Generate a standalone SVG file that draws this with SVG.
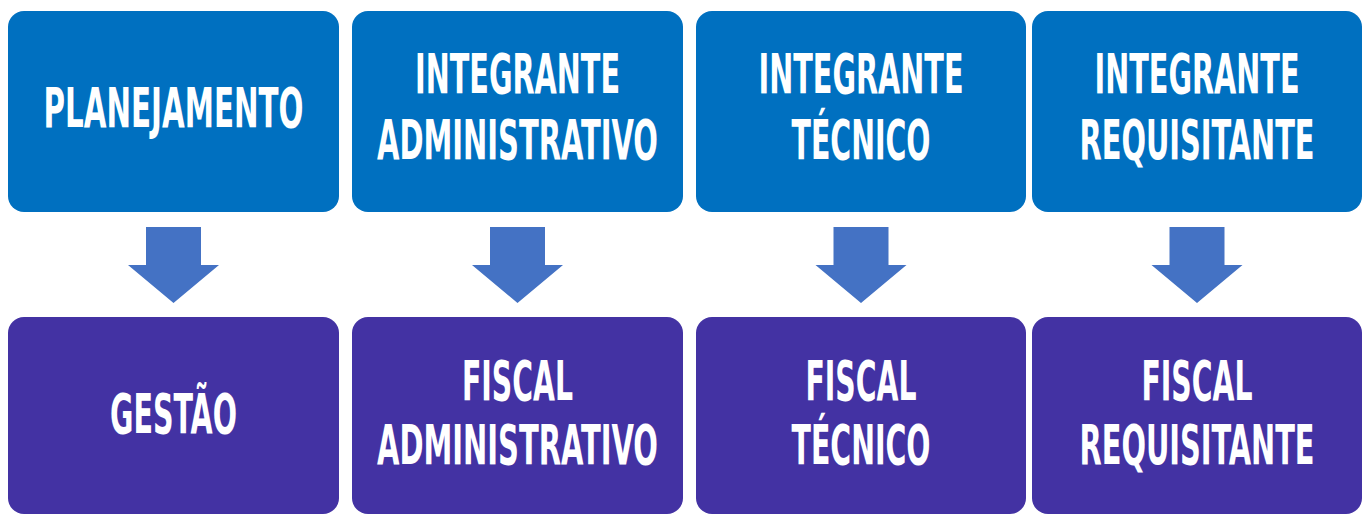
<svg xmlns="http://www.w3.org/2000/svg" width="1365" height="515" viewBox="0 0 1365 515">
<style>
.top{fill:#0070C0}
.bot{fill:#4332A3}
.arr{fill:#4472C4}
text{fill:#FFFFFF;font-family:"Liberation Sans Narrow","DejaVu Sans Condensed","DejaVu Sans",sans-serif;font-weight:bold;font-size:55px;text-anchor:middle;font-stretch:condensed}
</style>
<rect width="1365" height="515" fill="#FFFFFF"/>
<g id="n1"><rect class="top" x="8" y="11" width="331" height="201" rx="16"/><text x="173.5" y="127" textLength="260" lengthAdjust="spacingAndGlyphs">PLANEJAMENTO</text></g>
<g id="n2"><rect class="top" x="352" y="11" width="331" height="201" rx="16"/><text x="517.5" y="93" textLength="205" lengthAdjust="spacingAndGlyphs">INTEGRANTE</text><text x="517.5" y="159" textLength="281" lengthAdjust="spacingAndGlyphs">ADMINISTRATIVO</text></g>
<g id="n3"><rect class="top" x="696" y="11" width="330" height="201" rx="16"/><text x="861" y="93" textLength="205" lengthAdjust="spacingAndGlyphs">INTEGRANTE</text><text x="861" y="159" textLength="139" lengthAdjust="spacingAndGlyphs">TÉCNICO</text></g>
<g id="n4"><rect class="top" x="1032" y="11" width="330" height="201" rx="16"/><text x="1197" y="93" textLength="205" lengthAdjust="spacingAndGlyphs">INTEGRANTE</text><text x="1197" y="159" textLength="235" lengthAdjust="spacingAndGlyphs">REQUISITANTE</text></g>
<g id="n5"><rect class="bot" x="8" y="317" width="331" height="197" rx="16"/><text x="173.5" y="433" textLength="127" lengthAdjust="spacingAndGlyphs">GESTÃO</text></g>
<g id="n6"><rect class="bot" x="352" y="317" width="331" height="197" rx="16"/><text x="517.5" y="400" textLength="111" lengthAdjust="spacingAndGlyphs">FISCAL</text><text x="517.5" y="464" textLength="281" lengthAdjust="spacingAndGlyphs">ADMINISTRATIVO</text></g>
<g id="n7"><rect class="bot" x="696" y="317" width="330" height="197" rx="16"/><text x="861" y="400" textLength="111" lengthAdjust="spacingAndGlyphs">FISCAL</text><text x="861" y="464" textLength="139" lengthAdjust="spacingAndGlyphs">TÉCNICO</text></g>
<g id="n8"><rect class="bot" x="1032" y="317" width="330" height="197" rx="16"/><text x="1197" y="400" textLength="111" lengthAdjust="spacingAndGlyphs">FISCAL</text><text x="1197" y="464" textLength="235" lengthAdjust="spacingAndGlyphs">REQUISITANTE</text></g>
<g id="connectors">
<polygon class="arr" points="146,227 201,227 201,265 219,265 173.5,303 128,265 146,265"/>
<polygon class="arr" points="490,227 545,227 545,265 563,265 517.5,303 472,265 490,265"/>
<polygon class="arr" points="833.5,227 888.5,227 888.5,265 906.5,265 861,303 815.5,265 833.5,265"/>
<polygon class="arr" points="1169.5,227 1224.5,227 1224.5,265 1242.5,265 1197,303 1151.5,265 1169.5,265"/>
</g>
</svg>
